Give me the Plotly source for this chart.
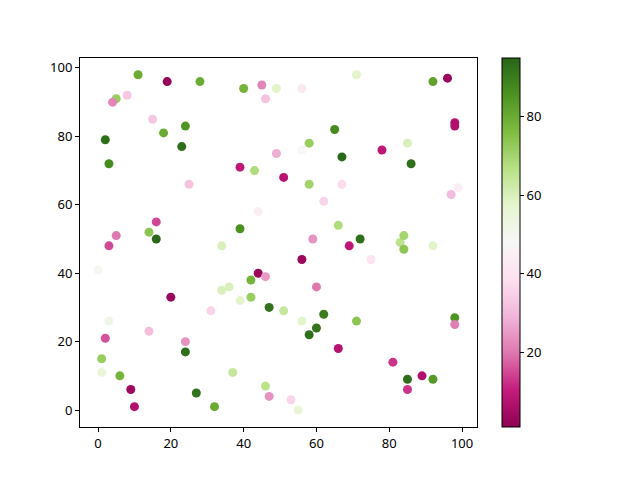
import plotly.graph_objects as go

# scatter points: x, y and colour value
xs = [11, 19, 28, 40, 45, 49, 56, 5, 4, 8,
      46, 71, 92, 96, 98, 98, 2, 15, 18, 24,
      23, 3, 25, 39, 43, 49, 56, 58, 65, 67,
      78, 85, 86, 51, 58, 67, 62, 97, 99, 44,
      14, 16, 16, 3, 5, 39, 34, 59, 66, 69,
      72, 83, 84, 84, 92, 0, 20, 34, 36, 39,
      42, 44, 46, 42, 56, 60, 75, 31, 14, 2,
      24, 24, 1, 1, 3, 6, 9, 10, 27, 32,
      37, 47, 51, 56, 58, 60, 62, 66, 71, 81,
      85, 85, 89, 92, 98, 98, 46, 47, 53, 55]
ys = [98, 96, 96, 94, 95, 94, 94, 91, 90, 92,
      91, 98, 96, 97, 84, 83, 79, 85, 81, 83,
      77, 72, 66, 71, 70, 75, 76, 78, 82, 74,
      76, 78, 72, 68, 66, 66, 61, 63, 65, 58,
      52, 55, 50, 48, 51, 53, 48, 50, 54, 48,
      50, 49, 51, 47, 48, 41, 33, 35, 36, 32,
      38, 40, 39, 33, 44, 36, 44, 29, 23, 21,
      20, 17, 15, 11, 26, 10, 6, 1, 5, 1,
      11, 30, 29, 26, 22, 24, 28, 18, 26, 14,
      9, 6, 10, 9, 27, 25, 7, 4, 3, 0]
vals = [80, 2, 80, 78, 22, 58, 42, 72, 22, 33,
        32, 58, 82, 3, 7, 7, 93, 33, 80, 85,
        93, 87, 32, 9, 68, 28, 48, 72, 87, 94,
        9, 60, 93, 8, 70, 38, 36, 30, 44, 44,
        74, 15, 94, 15, 20, 86, 60, 24, 68, 9,
        93, 66, 70, 74, 58, 49, 3, 60, 60, 58,
        78, 3, 25, 72, 3, 20, 40, 36, 31, 16,
        24, 93, 72, 56, 52, 78, 4, 7, 92, 80,
        64, 92, 64, 58, 93, 92, 90, 8, 74, 13,
        93, 13, 7, 84, 85, 21, 66, 24, 36, 56]

fig = go.Figure()
fig.add_trace(go.Scatter(
    x=xs, y=ys, mode="markers",
    marker=dict(
        size=9, color=vals, colorscale="PiYG", cmin=1, cmax=95,
        line=dict(width=0),
        colorbar=dict(
            x=1.063, xanchor="left", xpad=0, y=0.5, yanchor="middle", ypad=0,
            len=1, lenmode="fraction", thickness=18,
            outlinewidth=1, outlinecolor="black",
            ticks="outside", ticklen=4, tickcolor="black",
            tickvals=[20, 40, 60, 80],
            tickfont=dict(size=13, color="black"),
        ),
    ),
    showlegend=False,
))

axis_style = dict(
    showgrid=False, zeroline=False, showline=True, linecolor="black",
    linewidth=1, mirror=True, ticks="outside", ticklen=4,
    tickcolor="black", tickfont=dict(size=13, color="black"),
)
fig.update_xaxes(range=[-4.95, 104.1], tickvals=[0, 20, 40, 60, 80, 100], **axis_style)
fig.update_yaxes(range=[-4.95, 102.9], tickvals=[0, 20, 40, 60, 80, 100], **axis_style)
# page has an 8px body margin, so shift everything up-left by 8px
fig.update_layout(
    width=640, height=480,
    margin=dict(l=72, r=171, t=50, b=61),
    plot_bgcolor="white", paper_bgcolor="white",
    font=dict(family="Noto Sans, DejaVu Sans", color="black"),
)
fig.write_html("out.html")
